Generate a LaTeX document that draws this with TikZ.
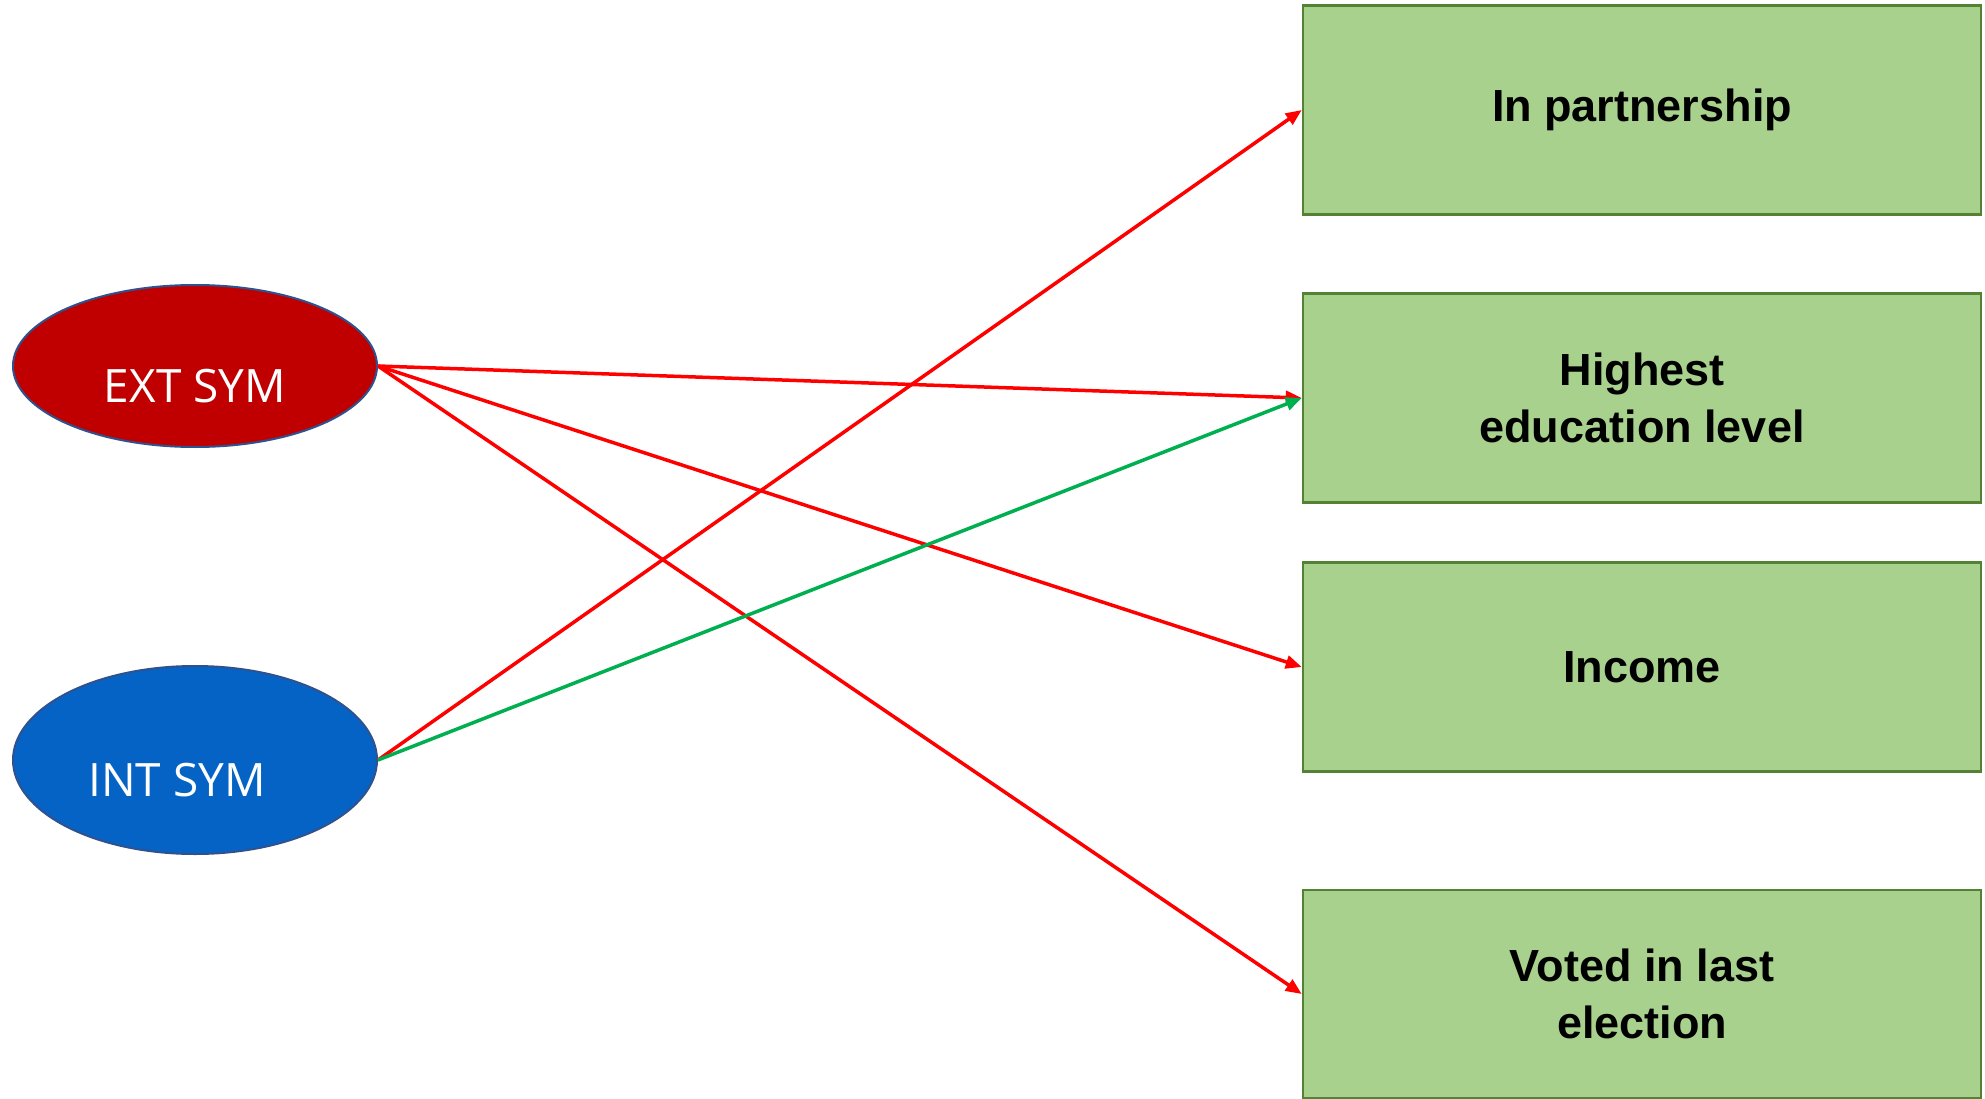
\documentclass[tikz,border=0pt]{standalone}
\usepackage{fontspec}
\setmainfont{Liberation Sans}
\newfontfamily\ellfont{Open Sans}
\usetikzlibrary{shapes.geometric,arrows.meta}
\definecolor{extred}{HTML}{C00000}
\definecolor{intblue}{HTML}{0563C6}
\definecolor{ellborder}{HTML}{2F528F}
\definecolor{boxfill}{HTML}{A9D18E}
\definecolor{boxborder}{HTML}{548235}
\definecolor{arrred}{HTML}{FF0000}
\definecolor{arrgreen}{HTML}{00B050}
\tikzset{
  ell/.style={ellipse, draw=ellborder, line width=2pt, minimum width=364pt, inner sep=0pt},
  elltext/.style={text=white, font=\ellfont\fontsize{46}{50}\selectfont, inner sep=0pt},
  outbox/.style={rectangle, draw=boxborder, fill=boxfill, line width=2.5pt, minimum width=678pt, minimum height=209pt, align=center, font=\bfseries\fontsize{45}{57}\selectfont, inner sep=0pt},
  conn/.style={line width=3.5pt, -{Triangle[length=16pt,width=13pt]}},
}
\begin{document}
\begin{tikzpicture}[x=1pt,y=-1pt]
\useasboundingbox (0,0) rectangle (1985,1099);
\node[ell, fill=extred, minimum height=162pt] (ext) at (195,366) {};
\node[ell, fill=intblue, minimum height=188pt] (int) at (195,760) {};
\node[elltext] (extt) at (195,386) {EXT SYM};
\node[elltext] (intt) at (177,780) {INT SYM};
\node[outbox] (b1) at (1642,110) {In partnership};
\node[outbox] (b2) at (1642,398) {Highest\\education level};
\node[outbox] (b3) at (1642,667) {Income};
\node[outbox, minimum height=208pt] (b4) at (1642,994) {Voted in last\\election};
\draw[conn, arrred] (ext.east) -- (b2.west);
\draw[conn, arrred] (ext.east) -- (b3.west);
\draw[conn, arrred] (ext.east) -- (b4.west);
\draw[conn, arrred] (int.east) -- (b1.west);
\draw[conn, arrgreen] (int.east) -- (b2.west);
\end{tikzpicture}
\end{document}
